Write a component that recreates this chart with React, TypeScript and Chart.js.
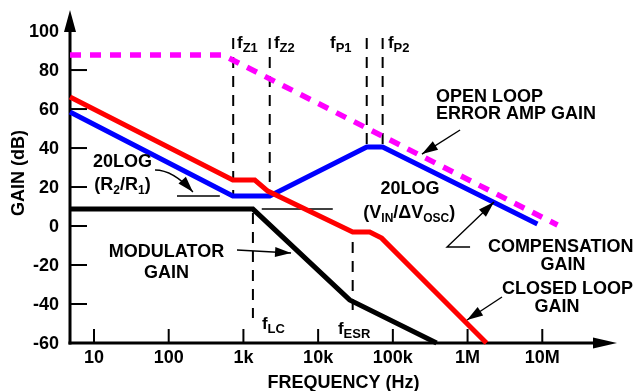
import React, { useEffect, useRef } from 'react';
import { Chart, registerables } from 'chart.js';

Chart.register(...registerables);

const FONT_FAMILY = '"Liberation Sans", Arial, Helvetica, sans-serif';

// axis ranges
const X_MIN = 4.775;
const X_MAX = 1e8;
const Y_MIN = -60;
const Y_MAX = 110.8;

// ticks
const xTickValues = [10, 100, 1e3, 1e4, 1e5, 1e6, 1e7];
const xTickLabels = ['10', '100', '1k', '10k', '100k', '1M', '10M'];
const yTickValues = [-60, -40, -20, 0, 20, 40, 60, 80, 100];
const yTickMarks = [-40, -20, 0, 20, 40, 60, 80];

// open loop error amp gain (magenta dashed)
const openLoopFreq = [4.775, 531, 16e6];
const openLoopGain = [87.7, 87.7, 0.5];

// compensation gain (blue)
const compFreq = [4.775, 721, 2250, 44700, 73000, 8.6e6];
const compGain = [58.5, 15.4, 15.4, 40.5, 40.5, 1.0];

// closed loop gain (red)
const closedFreq = [4.775, 721, 1420, 2120, 29000, 49000, 70800, 1.79e6];
const closedGain = [66.2, 23.6, 23.6, 17.9, -3.1, -3.1, -6.2, -60];

// modulator gain (black)
const modFreq = [4.775, 1340, 26400, 385000];
const modGain = [8.7, 8.7, -37.9, -60];

// thin reference levels
const r2r1Freq = [129, 483];
const r2r1Gain = [15.4, 15.4];
const vinFreq = [1760, 15700];
const vinGain = [8.7, 8.7];

// corner-frequency markers (dashed verticals)
const markerNames = ['fZ1', 'fZ2', 'fP1', 'fP2', 'fLC', 'fESR'];
const markerFreq = [730, 2250, 44700, 73000, 1340, 29000];
const markerTop = [96.4, 96.4, 96.4, 96.4, 6.7, -8.2];
const markerBottom = [15.4, 15.4, 40.5, 40.5, -47.2, -43.1];

type Part = [string, boolean?];

// marker labels: [main, subscript], freq, gain (left aligned)
const markerLabels: { parts: Part[]; f: number; g: number }[] = [
  { parts: [['f'], ['Z1', true]], f: 820, g: 94.4 },
  { parts: [['f'], ['Z2', true]], f: 2560, g: 94.4 },
  { parts: [['f'], ['P1', true]], f: 14400, g: 94.4 },
  { parts: [['f'], ['P2', true]], f: 86000, g: 94.4 },
  { parts: [['f'], ['LC', true]], f: 1770, g: -49.7 },
  { parts: [['f'], ['ESR', true]], f: 18400, g: -52.3 },
];

const textLabels: { parts: Part[]; f: number; g: number; align: 'left' | 'center' }[] = [
  { parts: [['20LOG']], f: 24.1, g: 33.4, align: 'center' },
  { parts: [['(R'], ['2', true], ['/R'], ['1', true], [')']], f: 24.1, g: 21.6, align: 'center' },
  { parts: [['MODULATOR']], f: 93.5, g: -12.8, align: 'center' },
  { parts: [['GAIN']], f: 93.5, g: -23.6, align: 'center' },
  { parts: [['OPEN LOOP']], f: 378000, g: 66.7, align: 'left' },
  { parts: [['ERROR AMP GAIN']], f: 378000, g: 58.0, align: 'left' },
  { parts: [['20LOG']], f: 170000, g: 19.5, align: 'center' },
  { parts: [['(V'], ['IN', true], ['/\u0394V'], ['OSC', true], [')']], f: 166000, g: 7.2, align: 'center' },
  { parts: [['COMPENSATION']], f: 1.87e6, g: -10.25, align: 'left' },
  { parts: [['GAIN']], f: 18.9e6, g: -19.0, align: 'center' },
  { parts: [['CLOSED LOOP']], f: 2.89e6, g: -31.8, align: 'left' },
  { parts: [['GAIN']], f: 15.7e6, g: -41.0, align: 'center' },
];

// annotation arrows: list of [freq, gain] points, last is the tip
const arrows: { pts: [number, number][]; curved?: boolean }[] = [
  { pts: [[65.6, 28.7], [89.3, 28.7], [211, 17.45]], curved: true },
  { pts: [[793000, 49.25], [245000, 36.9]] },
  { pts: [[820, -12.3], [4340, -13.8]] },
  { pts: [[1.08e6, -10.76], [531000, -10.76], [2.26e6, 12.3]] },
  { pts: [[2.89e6, -36.4], [984000, -48.2]] },
];

const toXY = (xs: number[], ys: number[]) => xs.map((x, i) => ({ x, y: ys[i] }));

function font(size: number) {
  return `bold ${size}px ${FONT_FAMILY}`;
}

function drawRich(
  ctx: CanvasRenderingContext2D,
  parts: Part[],
  x: number,
  y: number,
  align: 'left' | 'center',
  size = 18,
  subSize = 12,
  subShift = 4
) {
  let w = 0;
  for (const [t, sub] of parts) {
    ctx.font = font(sub ? subSize : size);
    w += ctx.measureText(t).width;
  }
  let cx = align === 'center' ? x - w / 2 : x;
  const baseline = y + size * 0.358;
  ctx.textAlign = 'left';
  ctx.textBaseline = 'alphabetic';
  for (const [t, sub] of parts) {
    ctx.font = font(sub ? subSize : size);
    ctx.fillText(t, cx, sub ? baseline + subShift : baseline);
    cx += ctx.measureText(t).width;
  }
}

function drawHead(ctx: CanvasRenderingContext2D, bx: number, by: number, tx: number, ty: number, L = 15, W = 5) {
  const a = Math.atan2(ty - by, tx - bx);
  const c = Math.cos(a);
  const s = Math.sin(a);
  ctx.beginPath();
  ctx.moveTo(tx, ty);
  ctx.lineTo(tx - L * c + W * s, ty - L * s - W * c);
  ctx.lineTo(tx - L * c - W * s, ty - L * s + W * c);
  ctx.closePath();
  ctx.fill();
}

const decorPlugin = {
  id: 'decor',
  beforeDatasetsDraw(chart: any) {
    const { ctx, chartArea, scales } = chart;
    const xs = scales.x;
    const ys = scales.y;
    const { left, right, top, bottom } = chartArea;
    ctx.save();
    ctx.strokeStyle = '#000';
    ctx.fillStyle = '#000';
    // y axis
    ctx.lineWidth = 3;
    ctx.beginPath();
    ctx.moveTo(left, bottom + 1.5);
    ctx.lineTo(left, top + 14);
    ctx.stroke();
    drawHead(ctx, left, top + 30, left, top, 22, 6);
    // x axis
    ctx.beginPath();
    ctx.moveTo(left - 1.5, bottom);
    ctx.lineTo(right - 14, bottom);
    ctx.stroke();
    drawHead(ctx, right - 30, bottom, right, bottom, 24, 5.5);
    // tick marks
    ctx.lineWidth = 2;
    for (const v of yTickMarks) {
      const y = ys.getPixelForValue(v);
      ctx.beginPath();
      ctx.moveTo(left, y);
      ctx.lineTo(left + 17, y);
      ctx.stroke();
    }
    for (const v of xTickValues) {
      const x = xs.getPixelForValue(v);
      ctx.beginPath();
      ctx.moveTo(x, bottom);
      ctx.lineTo(x, bottom - 14);
      ctx.stroke();
    }
    // tick labels
    ctx.font = font(18);
    ctx.textBaseline = 'middle';
    ctx.textAlign = 'right';
    for (const v of yTickValues) {
      ctx.fillText(String(v), left - 11, ys.getPixelForValue(v) + 1);
    }
    ctx.textAlign = 'center';
    xTickValues.forEach((v, i) => {
      ctx.fillText(xTickLabels[i], xs.getPixelForValue(v), bottom + 15);
    });
    // axis titles
    ctx.fillText('FREQUENCY (Hz)', (left + right) / 2, bottom + 40);
    ctx.save();
    ctx.translate(left - 51, top + 163);
    ctx.rotate(-Math.PI / 2);
    ctx.fillText('GAIN (dB)', 0, 0);
    ctx.restore();
    ctx.restore();
  },
  afterDatasetsDraw(chart: any) {
    const { ctx, scales } = chart;
    const xs = scales.x;
    const ys = scales.y;
    const P = (f: number, g: number): [number, number] => [xs.getPixelForValue(f), ys.getPixelForValue(g)];
    ctx.save();
    ctx.fillStyle = '#000';
    ctx.strokeStyle = '#000';
    for (const lb of textLabels) {
      const [x, y] = P(lb.f, lb.g);
      drawRich(ctx, lb.parts, x, y, lb.align, 18, 12, 4);
    }
    for (const lb of markerLabels) {
      const [x, y] = P(lb.f, lb.g);
      drawRich(ctx, lb.parts, x, y, 'left', 17, 13, 4);
    }
    ctx.lineWidth = 1.4;
    for (const ar of arrows) {
      const pts = ar.pts.map(([f, g]) => P(f, g));
      ctx.beginPath();
      ctx.moveTo(pts[0][0], pts[0][1]);
      if (ar.curved && pts.length === 3) {
        ctx.quadraticCurveTo(pts[1][0] + 8, pts[1][1], pts[2][0], pts[2][1]);
      } else {
        for (let i = 1; i < pts.length; i++) ctx.lineTo(pts[i][0], pts[i][1]);
      }
      ctx.stroke();
      const n = pts.length;
      const base = ar.curved ? [pts[1][0] + 8, pts[1][1]] : pts[n - 2];
      drawHead(ctx, base[0], base[1], pts[n - 1][0], pts[n - 1][1], 16, 5);
    }
    ctx.restore();
  },
};

export default function App() {
  const canvasRef = useRef<HTMLCanvasElement | null>(null);

  useEffect(() => {
    if (!canvasRef.current) return;
    const solid = (label: string, data: any, color: string, width: number, order: number) => ({
      label,
      data,
      borderColor: color,
      borderWidth: width,
      pointRadius: 0,
      fill: false,
      tension: 0,
      borderJoinStyle: 'miter' as const,
      borderCapStyle: 'butt' as const,
      clip: false as any,
      order,
    });
    const markerSets = markerNames.map((name, i) => ({
      ...solid(name, [
        { x: markerFreq[i], y: markerTop[i] },
        { x: markerFreq[i], y: markerBottom[i] },
      ], '#000', 2, 10),
      borderDash: [11, 8],
    }));
    const chart = new Chart(canvasRef.current, {
      type: 'line',
      data: {
        datasets: [
          { ...solid('Open loop error amp gain', toXY(openLoopFreq, openLoopGain), '#ff00ff', 5.5, 1), borderDash: [11, 9] },
          solid('Closed loop gain', toXY(closedFreq, closedGain), '#ff0000', 5, 2),
          solid('Compensation gain', toXY(compFreq, compGain), '#0000ff', 5, 3),
          solid('Modulator gain', toXY(modFreq, modGain), '#000000', 5, 4),
          solid('20LOG(R2/R1)', toXY(r2r1Freq, r2r1Gain), '#000000', 1.5, 5),
          solid('20LOG(VIN/dVOSC)', toXY(vinFreq, vinGain), '#000000', 1.5, 5),
          ...markerSets,
        ],
      },
      options: {
        animation: false,
        responsive: false,
        devicePixelRatio: 1,
        parsing: true as any,
        layout: { padding: { left: 70, right: 21, top: 10, bottom: 48 } },
        plugins: { legend: { display: false }, tooltip: { enabled: false } },
        events: [],
        scales: {
          x: { type: 'logarithmic', min: X_MIN, max: X_MAX, display: false },
          y: { type: 'linear', min: Y_MIN, max: Y_MAX, display: false },
        },
      },
      plugins: [decorPlugin],
    });
    return () => chart.destroy();
  }, []);

  return (
    <div style={{ position: 'absolute', left: 0, top: 0, width: 638, height: 391, background: '#fff' }}>
      <canvas ref={canvasRef} width={638} height={391} style={{ width: 638, height: 391, display: 'block' }} />
    </div>
  );
}
